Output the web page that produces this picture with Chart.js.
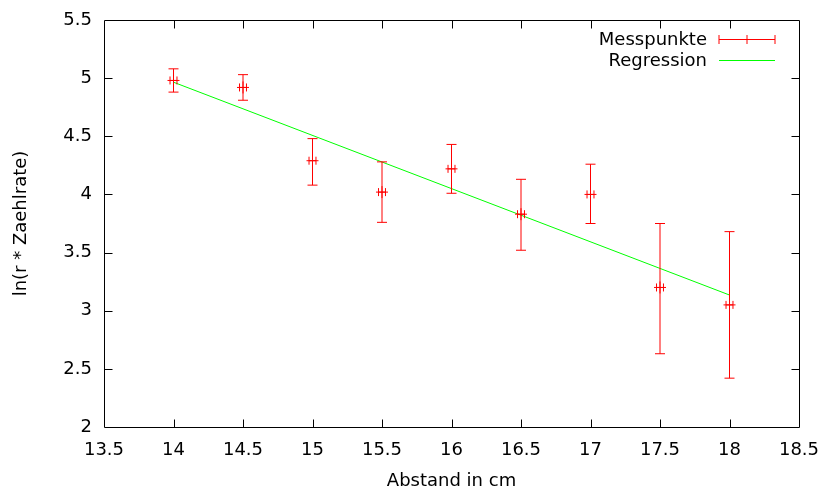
<!DOCTYPE html>
<html>
<head>
<meta charset="utf-8">
<script src="https://cdn.jsdelivr.net/npm/chart.js@4"></script>
<style>
  html, body { margin: 0; padding: 0; background: #fff; }
  #wrap { width: 822px; height: 490px; }
</style>
</head>
<body>
<div id="wrap"><canvas id="myChart" width="822" height="490"></canvas></div>
<script>
// Messwerte
var abstand = [14, 14.5, 15, 15.5, 16, 16.5, 17, 17.5, 18];
var lnRate = [4.98, 4.92, 4.29, 4.02, 4.22, 3.83, 4.00, 3.20, 3.05];
var errOben = [5.08, 5.03, 4.48, 4.28, 4.43, 4.13, 4.26, 3.75, 3.68];
var errUnten = [4.88, 4.81, 4.08, 3.76, 4.01, 3.52, 3.75, 2.63, 2.42];
var xFehler = [0.025, 0.025, 0.025, 0.025, 0.025, 0.025, 0.025, 0.025, 0.025];

// Regressionsgerade (Endpunkte)
var regX = [14, 18];
var regY = [4.965, 3.135];

var xTicks = [13.5, 14, 14.5, 15, 15.5, 16, 16.5, 17, 17.5, 18, 18.5];
var yTicks = [2, 2.5, 3, 3.5, 4, 4.5, 5, 5.5];

var FONT = "'DejaVu Sans', sans-serif";
var RED = "rgb(255, 0, 0)";
var GREEN = "rgb(0, 255, 0)";

// error bars, frame, inward ticks and legend
var gnuplotLook = {
	id: "gnuplotLook",
	afterDatasetsDraw: function (chart) {
		var c = chart.ctx;
		var xs = chart.scales.x;
		var ys = chart.scales.y;
		c.save();
		c.strokeStyle = RED;
		c.lineWidth = 1;
		for (var i = 0; i < abstand.length; i++) {
			var px = xs.getPixelForValue(abstand[i]);
			var py = ys.getPixelForValue(lnRate[i]);
			var top = ys.getPixelForValue(errOben[i]);
			var bot = ys.getPixelForValue(errUnten[i]);
			var xl = xs.getPixelForValue(abstand[i] - xFehler[i]);
			var xr = xs.getPixelForValue(abstand[i] + xFehler[i]);
			c.beginPath();
			// y error bar
			c.moveTo(px, top); c.lineTo(px, bot);
			c.moveTo(px - 5, top); c.lineTo(px + 5, top);
			c.moveTo(px - 5, bot); c.lineTo(px + 5, bot);
			// x error bar
			c.moveTo(xl, py); c.lineTo(xr, py);
			c.moveTo(xl, py - 4); c.lineTo(xl, py + 4);
			c.moveTo(xr, py - 4); c.lineTo(xr, py + 4);
			c.stroke();
		}

		// frame
		var a = chart.chartArea;
		var L = Math.round(a.left) + 0.5, R = Math.round(a.right) + 0.5;
		var T = Math.round(a.top) + 0.5, B = Math.round(a.bottom) + 0.5;
		c.strokeStyle = "#000";
		c.beginPath();
		c.rect(L, T, R - L, B - T);
		// inward ticks on all sides
		xTicks.forEach(function (v, k) {
			if (k === 0 || k === xTicks.length - 1) return;
			var x = Math.round(xs.getPixelForValue(v)) + 0.5;
			c.moveTo(x, B); c.lineTo(x, B - 8);
			c.moveTo(x, T); c.lineTo(x, T + 8);
		});
		yTicks.forEach(function (v, k) {
			if (k === 0 || k === yTicks.length - 1) return;
			var y = Math.round(ys.getPixelForValue(v)) + 0.5;
			c.moveTo(L, y); c.lineTo(L + 8, y);
			c.moveTo(R, y); c.lineTo(R - 8, y);
		});
		c.stroke();

		// legend
		c.font = "18px " + FONT;
		c.fillStyle = "#000";
		c.textAlign = "right";
		c.textBaseline = "middle";
		c.fillText("Messpunkte", 707, 40);
		c.fillText("Regression", 707, 61);
		c.strokeStyle = RED;
		c.beginPath();
		c.moveTo(719, 39.5); c.lineTo(775, 39.5);
		c.moveTo(719, 35); c.lineTo(719, 44);
		c.moveTo(775, 35); c.lineTo(775, 44);
		c.moveTo(747, 35); c.lineTo(747, 44);
		c.stroke();
		c.strokeStyle = GREEN;
		c.beginPath();
		c.moveTo(719, 60.5); c.lineTo(775, 60.5);
		c.stroke();
		c.restore();
	},
};

var ctx = document.getElementById("myChart").getContext("2d");

var chart = new Chart(ctx, {
	type: "scatter",
	data: {
		datasets: [
			{
				label: "Messpunkte",
				data: abstand.map((x, i) => ({ x: x, y: lnRate[i] })),
				pointStyle: "cross",
				pointRadius: 6,
				pointBorderWidth: 1,
				borderColor: RED,
				backgroundColor: RED,
			},
			{
				label: "Regression",
				data: regX.map((x, i) => ({ x: x, y: regY[i] })),
				showLine: true,
				pointRadius: 0,
				borderColor: GREEN,
				borderWidth: 1,
			},
		],
	},
	options: {
		responsive: false,
		animation: false,
		events: [],
		layout: { padding: { top: 20, right: 23, left: 0, bottom: 0 } },
		plugins: {
			legend: { display: false },
			tooltip: { enabled: false },
		},
		scales: {
			x: {
				type: "linear",
				min: 13.5,
				max: 18.5,
				afterBuildTicks: (s) => { s.ticks = xTicks.map((v) => ({ value: v })); },
				afterFit: (s) => { s.height = 63; s.paddingLeft = 0; s.paddingRight = 0; },
				grid: { display: false, drawTicks: false },
				border: { display: false },
				ticks: {
					padding: 13,
					color: "#000",
					font: { family: FONT, size: 18 },
					maxRotation: 0,
					callback: (v) => String(v),
				},
				title: {
					display: true,
					text: "Abstand in cm",
					color: "#000",
					font: { family: FONT, size: 18, lineHeight: 1 },
					padding: { top: 0, bottom: 0 },
				},
			},
			y: {
				type: "linear",
				min: 2,
				max: 5.5,
				afterBuildTicks: (s) => { s.ticks = yTicks.map((v) => ({ value: v })); },
				afterFit: (s) => { s.width = 104; s.paddingTop = 0; s.paddingBottom = 0; },
				grid: { display: false, drawTicks: false },
				border: { display: false },
				ticks: {
					padding: 12,
					color: "#000",
					font: { family: FONT, size: 18 },
					callback: (v) => String(v),
				},
				title: {
					display: true,
					text: "ln(r * Zaehlrate)",
					color: "#000",
					font: { family: FONT, size: 18 },
					padding: { top: 11, bottom: 0 },
				},
			},
		},
	},
	plugins: [gnuplotLook],
});
</script>
</body>
</html>
